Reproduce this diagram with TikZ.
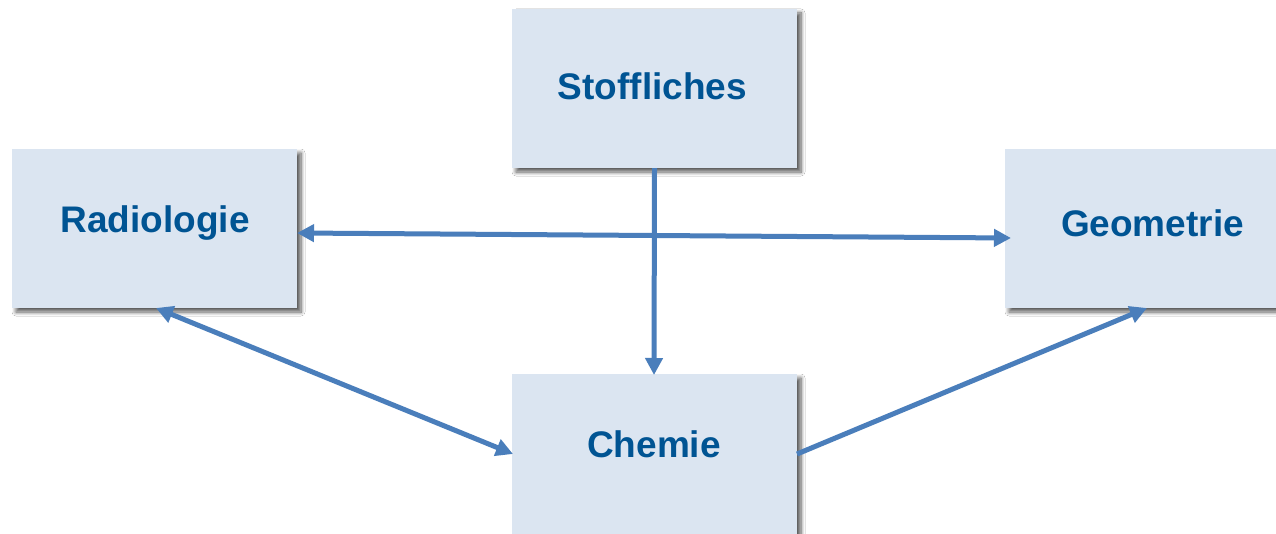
\documentclass[tikz,border=0pt]{standalone}
\usepackage{fontspec}
\setmainfont{Liberation Sans}[Ligatures=NoCommon]
\usetikzlibrary{arrows.meta,shadows.blur}
\definecolor{boxfill}{RGB}{219,229,241}
\definecolor{txtblue}{RGB}{0,84,147}
\definecolor{linkblue}{RGB}{74,126,187}
\tikzset{
  boxnode/.style={rectangle, fill=boxfill, minimum width=285pt, minimum height=159pt, inner sep=0pt,
    blur shadow={shadow xshift=4pt, shadow yshift=-4pt, shadow blur steps=8, shadow opacity=65, shadow blur radius=4pt}},
  lbl/.style={text=txtblue, font=\fontsize{37pt}{40pt}\selectfont\bfseries, anchor=base, inner sep=0pt},
  link/.style={draw=linkblue, line width=5pt},
  tip/.tip={Triangle[length=17pt, width=17pt]}
}
\begin{document}
\begin{tikzpicture}[x=1pt, y=-1pt]
\useasboundingbox (0,0) rectangle (1276,534);
\clip (0,0) rectangle (1276,534);
\fill[white] (0,0) rectangle (1276,534);
% boxes
\node[boxnode] (stoff) at (654.5,88.5) {};
\node[boxnode] (rad) at (154.5,228.5) {};
\node[boxnode] (geo) at (1147.5,228.5) {};
\node[boxnode, minimum height=180pt] (chem) at (654.5,464) {};
% labels
\node[lbl] (tstoff) at (652.5,100) {Stoffliches};
\node[lbl] (trad) at (155,233) {Radiologie};
\node[lbl] (tgeo) at (1152.5,237) {Geometrie};
\node[lbl] (tchem) at (654,457) {Chemie};
% connectors
\coordinate (radR) at (297,233);
\coordinate (geoL) at (1011,238);
\coordinate (radB) at (156,308);
\coordinate (chemL) at (513,454);
\coordinate (chemR) at (797,454);
\coordinate (geoB) at (1147,308);
\coordinate (chemT) at (654,375);
\draw[link, -tip] (stoff.south) -- (chemT);
\draw[link, tip-tip] (radR) -- (geoL);
\draw[link, tip-tip] (radB) -- (chemL);
\draw[link, -tip] (chemR) -- (geoB);
\end{tikzpicture}
\end{document}
